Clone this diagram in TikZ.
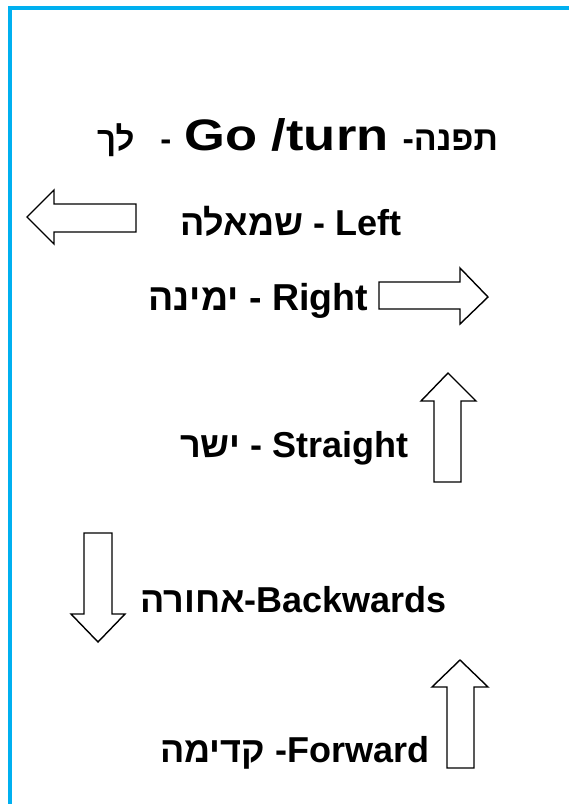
\documentclass[tikz,border=0pt]{standalone}
\usepackage{fontspec}
\setmainfont{Liberation Sans}
\newfontfamily\he[Script=Hebrew]{Liberation Sans}
\TeXXeTstate=1
\definecolor{frameblue}{HTML}{00B0F0}
\begin{document}
\begin{tikzpicture}[x=1pt,y=-1pt,
  arrowshape/.style={draw=black,fill=white,line width=1.4pt,line join=miter},
  label/.style={anchor=base west,inner sep=0pt,font=\bfseries\fontsize{36}{36}\selectfont},
  border/.style={draw=frameblue,line width=3.5pt}]
\useasboundingbox (0,0) rectangle (569,804);
\fill[white] (0,0) rectangle (569,804);
% frame
\draw[border] (10,804) -- (10,8) -- (569,8);
% title
\node[label] (title) at (97,150)
  {\fontsize{33}{33}\selectfont{\he\bfseries\beginR לך\endR}\hspace{26pt}-\hspace{13pt}\scalebox{1.25}[1.05]{\fontsize{42}{42}\selectfont Go /turn}\hspace{14pt}\fontsize{34}{34}\selectfont-{\he\bfseries\beginR תפנה\endR}};
% left
\draw[arrowshape] (27,217) -- (54,190) -- (54,204) -- (136,204) -- (136,232) -- (54,232) -- (54,244) -- cycle;
\node[label] (left) at (180,235) {{\he\beginR שמאלה\endR} - Left};
% right
\draw[arrowshape] (488,297) -- (460,268) -- (460,282) -- (379,282) -- (379,309) -- (460,309) -- (460,324) -- cycle;
\node[label,font=\bfseries\fontsize{37.5}{37.5}\selectfont] (right) at (148,310) {{\he\beginR ימינה\endR} - Right};
% straight
\draw[arrowshape] (448,373) -- (476,401) -- (461,401) -- (461,482) -- (434,482) -- (434,401) -- (421,401) -- cycle;
\node[label] (straight) at (180,457) {{\he\beginR ישר\endR} - Straight};
% backwards
\draw[arrowshape] (98,642) -- (125,614) -- (112,614) -- (112,533) -- (84,533) -- (84,614) -- (71,614) -- cycle;
\node[label] (back) at (140,612) {{\he\beginR אחורה\endR}-Backwards};
% forward
\draw[arrowshape] (460,660) -- (488,687) -- (474,687) -- (474,768) -- (447,768) -- (447,687) -- (432,687) -- cycle;
\node[label] (fwd) at (160,762) {{\he\beginR קדימה\endR} -Forward};
\end{tikzpicture}
\end{document}
